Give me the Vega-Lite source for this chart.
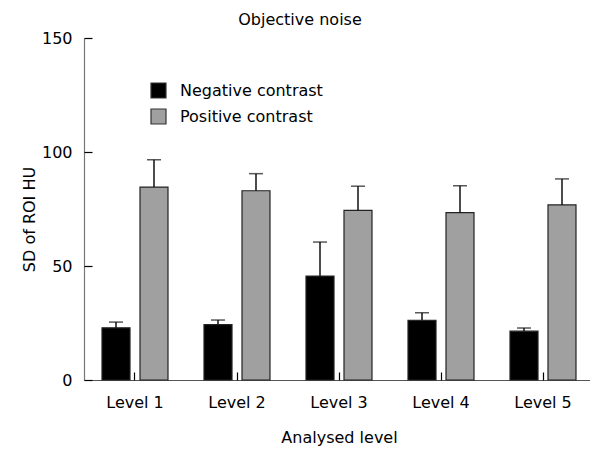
{
  "$schema": "https://vega.github.io/schema/vega-lite/v6.json",
  "autosize": {"type": "none"},
  "padding": {"left": 84, "top": 38, "right": 0, "bottom": 70},
  "width": 510,
  "height": 342,
  "title": {"text": "Objective noise", "fontSize": 16, "font": "DejaVu Sans", "fontWeight": "normal", "color": "#000", "anchor": "middle", "dx": -39, "offset": 2},
  "config": {"font": "DejaVu Sans", "view": {"stroke": null}, "axis": {"grid": false}},
  "data": {"values": [
    {"level": "Level 1", "contrast": "Negative contrast", "value": 22.9, "high": 25.4},
    {"level": "Level 1", "contrast": "Positive contrast", "value": 84.6, "high": 96.6},
    {"level": "Level 2", "contrast": "Negative contrast", "value": 24.3, "high": 26.3},
    {"level": "Level 2", "contrast": "Positive contrast", "value": 83.0, "high": 90.5},
    {"level": "Level 3", "contrast": "Negative contrast", "value": 45.6, "high": 60.5},
    {"level": "Level 3", "contrast": "Positive contrast", "value": 74.4, "high": 85.0},
    {"level": "Level 4", "contrast": "Negative contrast", "value": 26.2, "high": 29.5},
    {"level": "Level 4", "contrast": "Positive contrast", "value": 73.4, "high": 85.2},
    {"level": "Level 5", "contrast": "Negative contrast", "value": 21.4, "high": 22.8},
    {"level": "Level 5", "contrast": "Positive contrast", "value": 76.8, "high": 88.2}
  ]},
  "resolve": {"axis": {"x": "independent", "y": "independent"}},
  "encoding": {
    "xOffset": {"field": "contrast", "type": "nominal", "scale": {"paddingInner": 0.263, "paddingOuter": 0}}
  },
  "layer": [
    {
      "mark": {"type": "bar", "stroke": "#222", "strokeWidth": 1.2},
      "encoding": {
        "x": {"field": "level", "type": "nominal", "scale": {"paddingInner": 0.353, "paddingOuter": 0.1765},
          "axis": {"title": "Analysed level", "titleFontSize": 16, "titleFontWeight": "normal", "titleColor": "#000", "titlePadding": 19,
            "labelFontSize": 16, "labelColor": "#000", "labelAngle": 0, "ticks": false, "labelPadding": 14, "domainColor": "#555", "domainWidth": 1.2}},
        "y": {"field": "value", "type": "quantitative", "scale": {"domain": [0, 150], "nice": false},
          "axis": {"title": "SD of ROI HU", "titleFontSize": 16, "titleFontWeight": "normal", "titleColor": "#000", "titleY": 181, "titlePadding": 4,
            "values": [0, 50, 100, 150], "labelFontSize": 16, "labelColor": "#000", "ticks": false, "labelPadding": 12, "domainColor": "#777", "domainWidth": 1.2}},
        "color": {"field": "contrast", "type": "nominal", "scale": {"domain": ["Negative contrast", "Positive contrast"], "range": ["#000000", "#a0a0a0"]},
          "legend": {"title": null, "orient": "none", "legendX": 66, "legendY": 44, "symbolType": "square", "symbolSize": 225, "symbolStrokeColor": "#333", "symbolStrokeWidth": 1.2, "symbolOpacity": 1, "labelFontSize": 16, "labelColor": "#000", "labelOffset": 13, "rowPadding": 5}}
      }
    },
    {
      "mark": {"type": "rule", "color": "#111", "strokeWidth": 1.5},
      "encoding": {
        "x": {"field": "level", "type": "nominal",
          "axis": {"orient": "top", "offset": -342, "title": null, "labels": false, "domain": false, "ticks": true, "tickSize": 8, "tickColor": "#000", "tickWidth": 1.2}},
        "y": {"field": "value", "type": "quantitative",
          "axis": {"orient": "right", "offset": -510, "title": null, "labels": false, "domain": false, "ticks": true, "tickSize": 8, "tickColor": "#000", "tickWidth": 1.2, "values": [0, 50, 100, 150]}},
        "y2": {"field": "high"}
      }
    },
    {
      "mark": {"type": "tick", "orient": "horizontal", "color": "#111", "size": 14, "thickness": 1.5},
      "encoding": {
        "x": {"field": "level", "type": "nominal", "axis": null},
        "y": {"field": "high", "type": "quantitative", "axis": null}
      }
    }
  ]
}
